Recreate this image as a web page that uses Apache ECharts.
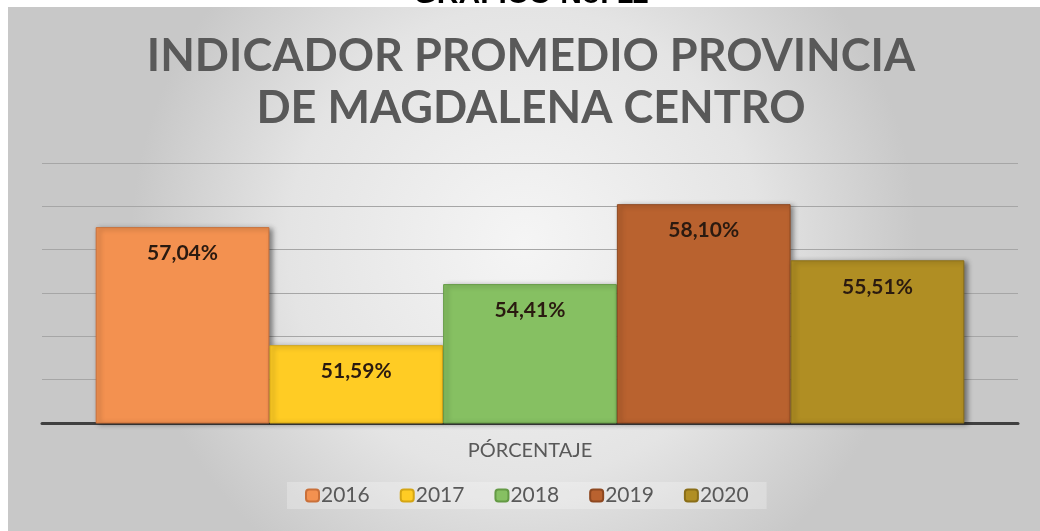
<!DOCTYPE html>
<html>
<head>
<meta charset="utf-8">
<script src="https://cdn.jsdelivr.net/npm/echarts@6/dist/echarts.min.js"></script>
<style>html,body{margin:0;padding:0;background:#fff;}#c{width:1040px;height:531px;}</style>
</head>
<body>
<div id="c"></div>
<script>
const categories = ['PÓRCENTAJE'];
const years = ['2016', '2017', '2018', '2019', '2020'];
const values = [57.04, 51.59, 54.41, 58.10, 55.51];
const labels = ['57,04%', '51,59%', '54,41%', '58,10%', '55,51%'];
const colors = ['#F39150', '#FFCC24', '#86C062', '#B9622F', '#B08E23'];
const borderColors = ['#C9703A', '#D4A514', '#649A45', '#8E4820', '#8A6E18'];

const chart = echarts.init(document.getElementById('c'));
const series = years.map((y, i) => ({
  name: y,
  type: 'bar',
  data: [values[i]],
  barGap: '0%',
  barCategoryGap: '11%',
  itemStyle: {
    color: colors[i],
    borderColor: borderColors[i],
    borderWidth: 1,
    shadowColor: 'rgba(0,0,0,0.45)',
    shadowBlur: 5,
    shadowOffsetX: 3,
    shadowOffsetY: 1
  },
  label: {
    show: true,
    position: 'insideTop',
    distance: 16,
    formatter: () => labels[i],
    color: '#2a1a10',
    fontFamily: 'Lato',
    fontWeight: 'bold',
    fontSize: 21
  }
}));

chart.setOption({
  animation: false,
  backgroundColor: '#ffffff',
  graphic: [
    {
      type: 'rect', z: -10, silent: true,
      shape: { x: 8, y: 7, width: 1032, height: 524 },
      style: {
        fill: {
          type: 'radial', x: 0.5, y: 0.45, r: 0.75,
          colorStops: [
            { offset: 0, color: '#f5f5f5' },
            { offset: 0.6, color: '#e4e4e4' },
            { offset: 1, color: '#c8c8c8' }
          ]
        }
      }
    },
    {
      type: 'text', silent: true,
      style: {
        text: 'GRÁFICO No. 11', x: 531, y: 10,
        align: 'center', verticalAlign: 'bottom',
        font: 'bold 30px "Liberation Sans"', fill: '#000'
      }
    },
    {
      type: 'text', silent: true,
      style: {
        text: 'INDICADOR PROMEDIO PROVINCIA\nDE MAGDALENA CENTRO',
        x: 531, y: 30,
        align: 'center', verticalAlign: 'top',
        font: 'bold 45px "Lato"', lineHeight: 52, fill: '#595959'
      }
    }
  ],
  legend: {
    data: years,
    bottom: 22,
    left: 287,
    itemWidth: 13,
    itemHeight: 12,
    itemGap: 30,
    padding: [3, 18],
    backgroundColor: 'rgba(255,255,255,0.25)',
    textStyle: { fontFamily: 'Lato', fontSize: 21, color: '#595959', padding: [0, 0, 0, -3] }
  },
  grid: { left: 42, right: 22, top: 163, bottom: 108 },
  xAxis: {
    type: 'category',
    data: categories,
    axisLine: { lineStyle: { color: '#404040', width: 3 } },
    axisTick: { show: false },
    axisLabel: { color: '#595959', fontFamily: 'Lato', fontSize: 20, margin: 18 }
  },
  yAxis: {
    type: 'value',
    min: 48,
    max: 60,
    interval: 2,
    axisLabel: { show: false },
    axisLine: { show: false },
    axisTick: { show: false },
    splitLine: { lineStyle: { color: '#a6a6a6', width: 1 } }
  },
  series: series
});
</script>
</body>
</html>
